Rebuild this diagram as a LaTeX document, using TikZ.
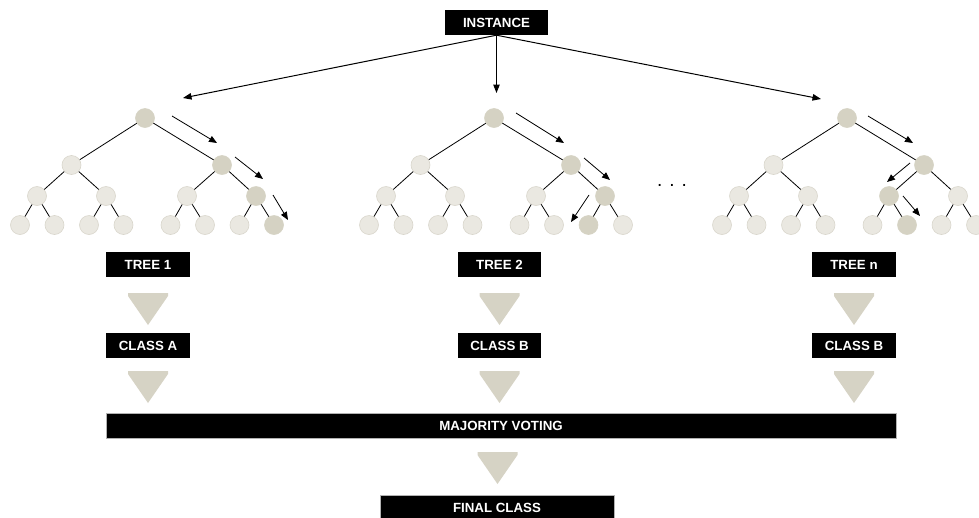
\documentclass[tikz,border=0pt]{standalone}
\usepackage{fontspec}
\setmainfont{Liberation Sans}
\usetikzlibrary{arrows.meta}
\definecolor{lightnode}{HTML}{EAE8E1}
\definecolor{lightedge}{HTML}{D9D6CC}
\definecolor{darknode}{HTML}{D5D2C3}
\definecolor{trifill}{HTML}{D6D3C5}
\tikzset{
  tnlt/.style={circle,minimum size=19pt,inner sep=0pt,fill=lightnode,draw=lightedge,line width=0.6pt},
  tndk/.style={circle,minimum size=19pt,inner sep=0pt,fill=darknode,draw=darknode,line width=0.6pt},
  edge/.style={line width=0.8pt,black},
  patharr/.style={line width=0.8pt,-{Triangle[length=8pt,width=6.5pt]}},
  instarr/.style={line width=1pt,-{Triangle[length=8.5pt,width=6.5pt]}},
  blk/.style={fill=black,text=white,inner sep=0pt,minimum height=25pt,font=\fontsize{13.3}{15}\selectfont\bfseries},
  trif/.style={fill=trifill}
}
\newcommand\mktree[4]{%
  \begin{scope}[xshift=#2pt]
    \node[tndk] (#1r) at (125,118) {};
    \node[tnlt] (#1a) at (51.5,165) {};
    \node[tndk] (#1b) at (202,165) {};
    \foreach \i/\x in {1/17,2/86,3/167,4/236}{
      \ifnum\i=#3 \def\st{tndk}\else\def\st{tnlt}\fi
      \node[\st] (#1c\i) at (\x,196) {};
    }
    \foreach \i/\x in {1/0,2/34.5,3/69,4/103.5,5/150.5,6/185,7/219.5,8/254}{
      \ifnum\i=#4 \def\st{tndk}\else\def\st{tnlt}\fi
      \node[\st] (#1d\i) at (\x,225) {};
    }
    \draw[edge] (#1r)--(#1a) (#1r)--(#1b)
      (#1a)--(#1c1) (#1a)--(#1c2) (#1b)--(#1c3) (#1b)--(#1c4)
      (#1c1)--(#1d1) (#1c1)--(#1d2) (#1c2)--(#1d3) (#1c2)--(#1d4)
      (#1c3)--(#1d5) (#1c3)--(#1d6) (#1c4)--(#1d7) (#1c4)--(#1d8);
  \end{scope}}
\newcommand\mytri[2]{\fill[trif] ({#1-20},#2) -- ({#1+20},#2) -- ({#1+20},{#2+3}) -- (#1,{#2+32}) -- ({#1-20},{#2+3}) -- cycle;}
\begin{document}
\begin{tikzpicture}[x=1pt,y=-1pt]
\useasboundingbox (0,0) rectangle (979,517);

% trees
\mktree{ta}{20}{4}{8}
\mktree{tb}{369}{4}{7}
\mktree{tc}{722}{3}{6}

% instance
\node[blk,minimum width=103pt] (inst) at (496.5,22.5) {INSTANCE};
\coordinate (i1) at (183,98);
\coordinate (i2) at (496.5,93);
\coordinate (i3) at (821,99);
\draw[instarr] (inst.south) -- (i1);
\draw[instarr] (inst.south) -- (i2);
\draw[instarr] (inst.south) -- (i3);

% path arrows
\coordinate (a1s) at (172,116); \coordinate (a1e) at (217,143);
\coordinate (a2s) at (235,157); \coordinate (a2e) at (263,179);
\coordinate (a3s) at (273,195); \coordinate (a3e) at (288,220);
\coordinate (b1s) at (516,113); \coordinate (b1e) at (564,143);
\coordinate (b2s) at (584,158); \coordinate (b2e) at (610,180);
\coordinate (b3s) at (589,195); \coordinate (b3e) at (571,222);
\coordinate (c1s) at (868,116); \coordinate (c1e) at (913,143);
\coordinate (c2s) at (910,163); \coordinate (c2e) at (887,182);
\coordinate (c3s) at (903,196); \coordinate (c3e) at (920,216);
\foreach \p in {a1,a2,a3,b1,b2,b3,c1,c2,c3}{\draw[patharr] (\p s) -- (\p e);}

% dots
\node[font=\fontsize{19}{20}\selectfont] (dots) at (672,185) {. . .};

% tree / class boxes
\node[blk,minimum width=84pt] (tree1) at (148,264.5) {TREE 1};
\node[blk,minimum width=83pt] (tree2) at (499.5,264.5) {TREE 2};
\node[blk,minimum width=84pt] (treen) at (854,264.5) {TREE n};
\node[blk,minimum width=84pt] (cls1) at (148,345.5) {CLASS A};
\node[blk,minimum width=83pt] (cls2) at (499.5,345.5) {CLASS B};
\node[blk,minimum width=84pt] (clsn) at (854,345.5) {CLASS B};

\mytri{148}{293}
\mytri{499.5}{293}
\mytri{854}{293}
\mytri{148}{371}
\mytri{499.5}{371}
\mytri{854}{371}

\node[blk,minimum width=790pt,draw=gray!60,line width=0.8pt] (vote) at (501,425.5) {MAJORITY VOTING};
\mytri{497.5}{452}
\node[blk,minimum width=234pt,draw=gray!60,line width=0.8pt] (final) at (497,507.5) {FINAL CLASS};
\end{tikzpicture}
\end{document}
